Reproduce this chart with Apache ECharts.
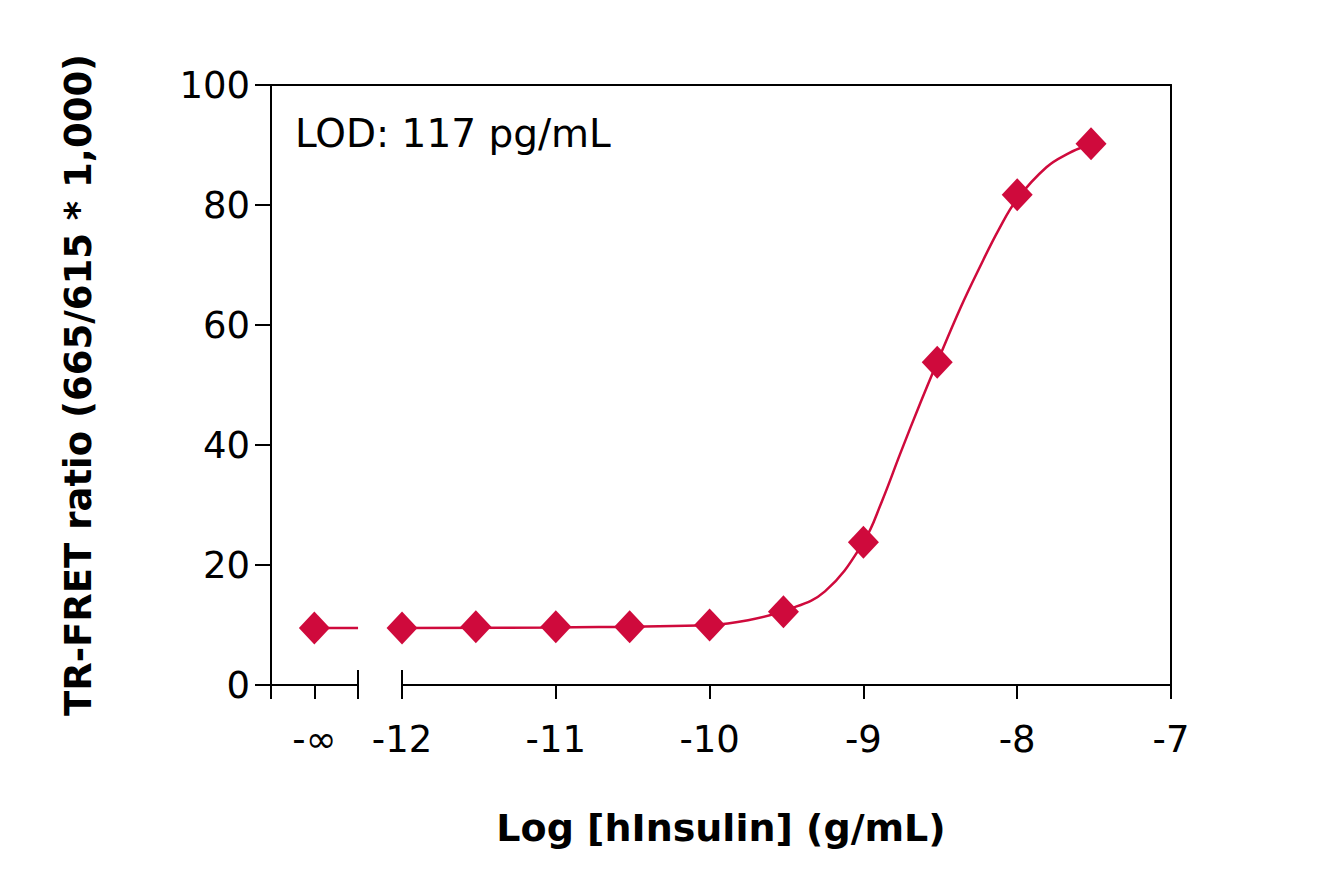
<!DOCTYPE html>
<html>
<head>
<meta charset="utf-8">
<script src="https://cdn.jsdelivr.net/npm/echarts@6/dist/echarts.min.js"></script>
<style>
  html, body { margin: 0; padding: 0; background: #fff; }
  #chart { width: 1325px; height: 896px; }
</style>
</head>
<body>
<div id="chart"></div>
<script>
// TR-FRET insulin standard curve
var RED = '#cf0a3c';
var FONT = '"DejaVu Sans", sans-serif';

// log concentration (g/mL); -12.57 stands in for -inf (zero standard)
var NEG_INF = -12.57;
var xPoints = [-12, -11.52, -11, -10.52, -10, -9.52, -9, -8.52, -8, -7.52];
var yPoints = [9.5, 9.7, 9.7, 9.7, 10.0, 12.2, 23.8, 53.8, 81.7, 90.2];
var zeroValue = 9.5;

// fitted curve
var fitX = [-12, -11, -10, -9.75, -9.5, -9.25, -9.0, -8.88, -8.76, -8.63, -8.52, -8.37, -8.25, -8.12, -8.0, -7.81, -7.66, -7.56];
var fitY = [9.5, 9.6, 10.0, 10.8, 12.5, 15.6, 23.8, 30.6, 38.6, 47.0, 53.8, 62.8, 69.3, 75.9, 81.0, 86.3, 88.7, 89.8];

var xMin = -12.852, xMax = -7;
var breakAt = -12.286;
var xLabelValues = [NEG_INF, -12, -11, -10, -9, -8, -7];
var yTicks = { min: 0, max: 100, step: 20 };

var chart = echarts.init(document.getElementById('chart'), null, { renderer: 'svg' });

var points = xPoints.map(function (x, i) { return [x, yPoints[i]]; });
points.unshift([NEG_INF, zeroValue]);
var fit = fitX.map(function (x, i) { return [x, fitY[i]]; });

var axisLineStyle = { color: '#000', width: 2 };

chart.setOption({
  animation: false,
  grid: { left: 271, top: 85, width: 900, height: 600 },
  xAxis: [
    {
      type: 'value', min: xMin, max: xMax, position: 'bottom',
      axisLine: { show: false },
      splitLine: { show: false },
      axisTick: {
        show: true, inside: false, length: 14,
        customValues: [xMin, NEG_INF, breakAt, -12, -11, -10, -9, -8, -7],
        lineStyle: axisLineStyle
      },
      axisLabel: {
        customValues: xLabelValues, margin: 36,
        color: '#000', fontSize: 37, fontFamily: FONT,
        formatter: function (v) { return v < -12.3 ? '-\u221e' : String(v); }
      },
      name: 'Log [hInsulin] (g/mL)', nameLocation: 'middle', nameGap: 124,
      nameTextStyle: { color: '#000', fontSize: 38, fontWeight: 'bold', fontFamily: FONT }
    },
    {
      type: 'value', min: xMin, max: xMax, position: 'bottom',
      axisLine: { show: false }, splitLine: { show: false }, axisLabel: { show: false },
      axisTick: { show: true, inside: true, length: 15, customValues: [breakAt, -12], lineStyle: axisLineStyle }
    },
    {
      type: 'value', min: xMin, max: xMax, position: 'top',
      axisLine: { show: true, lineStyle: axisLineStyle },
      axisTick: { show: false }, axisLabel: { show: false }, splitLine: { show: false }
    }
  ],
  yAxis: [
    {
      type: 'value', min: yTicks.min, max: yTicks.max, interval: yTicks.step, position: 'left',
      axisLine: { show: true, lineStyle: axisLineStyle },
      axisTick: { show: true, inside: false, length: 16, lineStyle: axisLineStyle },
      splitLine: { show: false },
      axisLabel: { margin: 21, color: '#000', fontSize: 37, fontFamily: FONT },
      name: 'TR-FRET ratio (665/615 * 1,000)', nameLocation: 'middle', nameGap: 174,
      nameTextStyle: { color: '#000', fontSize: 37, fontWeight: 'bold', fontFamily: FONT }
    },
    {
      type: 'value', min: yTicks.min, max: yTicks.max, position: 'right',
      axisLine: { show: true, lineStyle: axisLineStyle },
      axisTick: { show: false }, axisLabel: { show: false }, splitLine: { show: false }
    }
  ],
  graphic: [{
    type: 'text', left: 295, top: 114,
    style: { text: 'LOD: 117 pg/mL', fill: '#000', fontSize: 39, fontFamily: FONT }
  }],
  series: [
    {
      type: 'line', data: [[xMin, 0], [breakAt, 0]], symbol: 'none', clip: false, silent: true,
      lineStyle: axisLineStyle, z: 1
    },
    {
      type: 'line', data: [[-12, 0], [xMax, 0]], symbol: 'none', clip: false, silent: true,
      lineStyle: axisLineStyle, z: 1
    },
    {
      type: 'line', data: [[NEG_INF, zeroValue], [breakAt, zeroValue]], symbol: 'none',
      lineStyle: { color: RED, width: 2.5 }, z: 2
    },
    {
      type: 'line', data: fit, smooth: 0.4, symbol: 'none',
      lineStyle: { color: RED, width: 2.5 }, z: 2
    },
    {
      type: 'scatter', data: points, symbol: 'diamond', symbolSize: [31, 33],
      itemStyle: { color: RED, opacity: 1 }, z: 3
    }
  ]
});
window.addEventListener('resize', function () { chart.resize(); });
</script>
</body>
</html>
